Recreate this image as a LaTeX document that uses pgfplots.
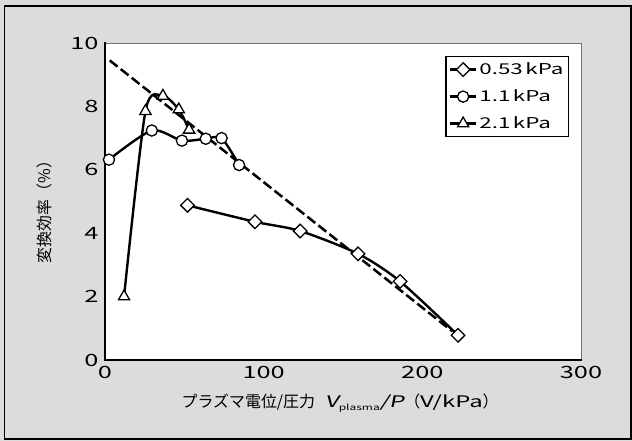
\documentclass[border=0pt]{standalone}
\usepackage{pgfplots}
\pgfplotsset{compat=1.18}
\usepackage{fontspec}
\setmainfont{Noto Sans CJK JP}[AutoFakeSlant=0.2]
% wide face for digits and Latin letters
\newfontfamily\widefont{Noto Sans CJK JP}[FakeStretch=1.5, AutoFakeSlant=0.2]
\definecolor{panelgray}{HTML}{DCDCDC}

\begin{document}
\begin{tikzpicture}
\fill[panelgray] (0bp,0bp) rectangle (632bp,441bp);
\draw[line width=1.2bp] (4.5bp,2bp) rectangle (631bp,435bp);
\begin{axis}[
  at={(105bp,81bp)}, anchor=south west,
  scale only axis, width=476bp, height=317bp,
  xmin=0, xmax=300, ymin=0, ymax=10,
  xtick={0,100,200,300}, ytick={0,2,4,6,8,10},
  major tick length=0pt,
  clip=false,
  axis background/.style={fill=white},
  axis line style={draw=black!55, line width=0.8bp},
  /pgf/number format/assume math mode=true,
  tick label style={font=\widefont\fontsize{17}{20}\selectfont},
  xticklabel style={yshift=-3bp},
  yticklabel style={xshift=-3bp},
  every axis y label/.style={at={(axis description cs:-0.128,0.48)}, rotate=90, anchor=center},
  every axis x label/.style={at={(axis description cs:0.494,-0.136)}, anchor=center},
  ylabel={\fontsize{16}{19}\selectfont 変換効率（\%）},
  xlabel={\fontsize{16}{19}\selectfont プラズマ電位/圧力\hspace{10bp}{\widefont\itshape V}\raisebox{-3bp}{\widefont\fontsize{8}{9}\selectfont plasma}{\widefont\itshape /P}（{\widefont V/kPa}）},
  legend style={at={(rel axis cs:0.975,0.959)}, anchor=north east,
    draw=black, line width=1.2bp, fill=white,
    font=\widefont\fontsize{15}{18}\selectfont,
    inner xsep=3bp, inner ysep=5bp, row sep=11bp,
    nodes={inner sep=2bp, text height=11bp, text depth=1bp}},
  legend cell align=left,
  legend image code/.code={\draw[mark repeat=2,mark phase=2] plot coordinates {(0bp,0bp) (13bp,0bp) (26bp,0bp)};},
  every axis plot/.append style={line width=2.4bp, black, smooth, tension=0.45},
]
% heavier left and bottom axis lines
\draw[line width=2.7bp, line cap=rect] (rel axis cs:0,1) -- (rel axis cs:0,0) -- (rel axis cs:1,0);

% guide line
\addplot[forget plot, line width=2.5bp, dash pattern=on 10bp off 4bp, sharp plot] coordinates {(3,9.45) (219,0.9)};

% 0.53 kPa
\addplot[mark=square*, mark size=4.8bp, mark options={solid, rotate=45, fill=white, line width=1.3bp}]
  coordinates {(52,4.88) (94.5,4.36) (123,4.07) (159.5,3.35) (186,2.48) (222.5,0.78)};
% 1.1 kPa
\addplot[mark=*, mark size=5.6bp, mark options={solid, fill=white, line width=1.3bp}]
  coordinates {(2.5,6.32) (29.5,7.24) (48.5,6.92) (63.5,6.98) (73.5,7.0) (84.5,6.15)};
% 2.1 kPa
\addplot[mark=triangle*, mark size=6.5bp, mark options={solid, fill=white, line width=1.3bp}]
  coordinates {(12,2.0) (25.5,7.85) (36.5,8.33) (46.5,7.9) (53,7.26)};
\legend{0.53\,kPa, 1.1\,kPa, 2.1\,kPa}
\end{axis}
\end{tikzpicture}
\end{document}
